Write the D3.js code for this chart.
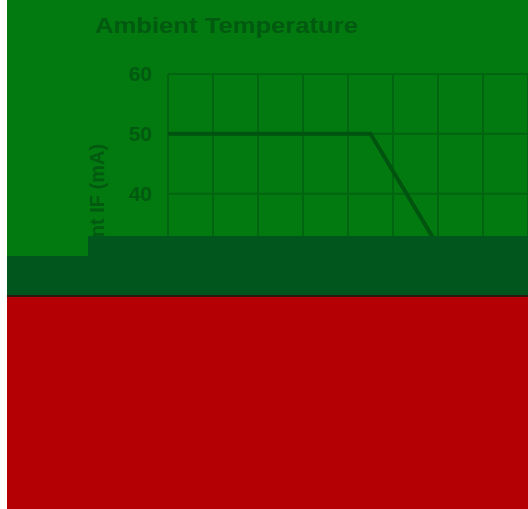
<!DOCTYPE html>
<html>
<head>
<meta charset="utf-8">
<script src="https://cdn.jsdelivr.net/npm/d3@7"></script>
<style>
  html, body { margin: 0; padding: 0; background: #ffffff; }
  svg { display: block; }
</style>
</head>
<body>
<svg id="chart" width="528" height="509"></svg>
<script>
// Derating curve: forward current vs ambient temperature
const temperatures = [-40, 50, 130];
const currents = [50, 50, 0];
const xTicks = [-40, -20, 0, 20, 40, 60, 80, 100, 120];
const yTicks = [0, 10, 20, 30, 40, 50, 60];

const W = 528, H = 509;
const plot = { left: 168, top: 74, right: 528, bottom: 433 };

const svg = d3.select("#chart");

const x = d3.scaleLinear().domain([-40, 120]).range([plot.left, plot.right]);
const y = d3.scaleLinear().domain([0, 60]).range([plot.bottom, plot.top]);

// page background
svg.append("rect").attr("x", 7).attr("y", 0).attr("width", W - 7).attr("height", H)
  .attr("fill", "#027a0f");

// title
svg.append("text")
  .attr("x", 95).attr("y", 33)
  .attr("font-family", "Liberation Sans, Arial, sans-serif")
  .attr("font-weight", "bold").attr("font-size", 22)
  .attr("textLength", 263).attr("lengthAdjust", "spacingAndGlyphs")
  .attr("fill", "#015a10")
  .text("Ambient Temperature");

// grid
const gridColor = "#016410";
svg.append("g").selectAll("line.v").data(xTicks).join("line")
  .attr("x1", d => x(d)).attr("x2", d => x(d))
  .attr("y1", plot.top).attr("y2", plot.bottom)
  .attr("stroke", gridColor).attr("stroke-width", 2);
svg.append("g").selectAll("line.h").data(yTicks).join("line")
  .attr("x1", plot.left).attr("x2", plot.right)
  .attr("y1", d => y(d)).attr("y2", d => y(d))
  .attr("stroke", gridColor).attr("stroke-width", 2);

// y tick labels
const yAxis = d3.axisLeft(y).tickValues(yTicks).tickSize(0).tickPadding(16);
const gy = svg.append("g").attr("transform", `translate(${plot.left},0)`).call(yAxis);
gy.select(".domain").remove();
gy.selectAll("text")
  .attr("font-family", "Liberation Sans, Arial, sans-serif")
  .attr("font-weight", "bold").attr("font-size", 21)
  .attr("fill", "#015a10");

// y axis title
svg.append("text")
  .attr("transform", `translate(104,${(plot.top + plot.bottom) / 2 + 6}) rotate(-90)`)
  .attr("text-anchor", "middle")
  .attr("font-family", "Liberation Sans, Arial, sans-serif")
  .attr("font-weight", "bold").attr("font-size", 20)
  .attr("fill", "#015a10")
  .text("Forward Current IF (mA)");

// derating curve
svg.append("clipPath").attr("id", "plotClip").append("rect")
  .attr("x", plot.left).attr("y", plot.top)
  .attr("width", plot.right - plot.left).attr("height", plot.bottom - plot.top);
const line = d3.line().x((d, i) => x(temperatures[i])).y(d => y(d));
svg.append("path").datum(currents)
  .attr("clip-path", "url(#plotClip)")
  .attr("d", line)
  .attr("fill", "none").attr("stroke", "#015410").attr("stroke-width", 4);

// lower panels
svg.append("rect").attr("x", 88).attr("y", 236).attr("width", W - 88).attr("height", 61)
  .attr("fill", "#01561e");
svg.append("rect").attr("x", 7).attr("y", 256).attr("width", 81).attr("height", 41)
  .attr("fill", "#01561e");
svg.append("rect").attr("x", 7).attr("y", 295).attr("width", W - 7).attr("height", 2)
  .attr("fill", "#2e1a0c");
svg.append("rect").attr("x", 7).attr("y", 297).attr("width", W - 7).attr("height", H - 297)
  .attr("fill", "#b40005");
</script>
</body>
</html>
